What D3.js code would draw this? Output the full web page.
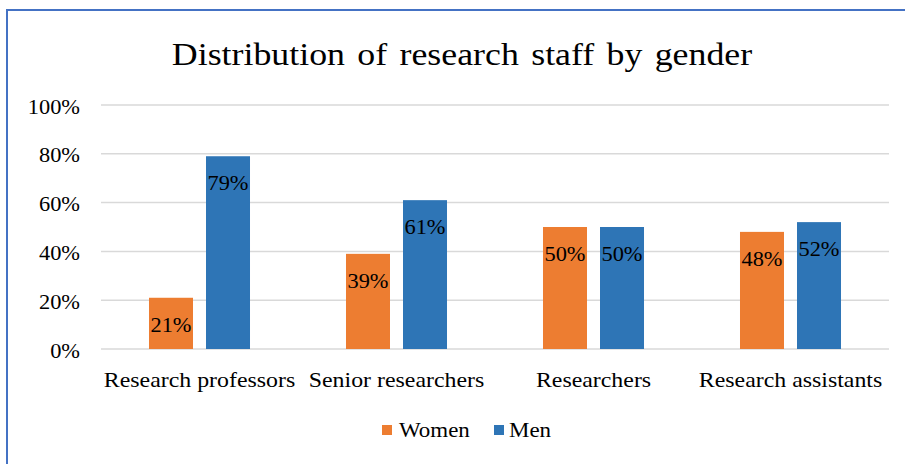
<!DOCTYPE html>
<html>
<head>
<meta charset="utf-8">
<script src="https://cdn.jsdelivr.net/npm/d3@7"></script>
<style>
  body { margin: 0; background: #fff; }
  text { font-family: "Liberation Serif", "Times New Roman", serif; fill: #000; }
</style>
</head>
<body>
<div id="chart"></div>
<script>
// 数据
var categories = ["Research professors", "Senior researchers", "Researchers", "Research assistants"];
var seriesNames = ["Women", "Men"];
var women = [21, 39, 50, 48];
var men = [79, 61, 50, 52];
var yTicks = [0, 20, 40, 60, 80, 100];
var colors = { Women: "#ed7d31", Men: "#2e75b6" };

var W = 905, H = 464;
var plot = { left: 101, right: 889, top: 105, bottom: 349 };
var sx = 1.12; // 原图文字横向偏宽
var serif = '"Liberation Serif", "Times New Roman", serif';

var svg = d3.select("#chart").append("svg")
    .attr("width", W)
    .attr("height", H);

svg.append("rect").attr("width", W).attr("height", H).attr("fill", "#fff");

// 蓝色边框（上、左）
svg.append("line").attr("x1", 6).attr("x2", W).attr("y1", 10).attr("y2", 10)
    .attr("stroke", "#4472c4").attr("stroke-width", 2);
svg.append("line").attr("x1", 7).attr("x2", 7).attr("y1", 9).attr("y2", H)
    .attr("stroke", "#4472c4").attr("stroke-width", 2);

// 文字辅助
function addText(g, x, y, str, size, anchor) {
    return g.append("text")
        .attr("transform", "translate(" + x + "," + y + ") scale(" + sx + ",1)")
        .attr("text-anchor", anchor || "middle")
        .style("font-family", serif)
        .style("font-size", size + "px")
        .text(str);
}

// 标题
addText(svg, 462, 65, "Distribution of research staff by gender", 32)
    .style("word-spacing", "3px");

var x0 = d3.scaleBand().domain(categories).range([plot.left, plot.right]).padding(0);
var x1 = d3.scaleBand().domain(seriesNames).range([0, x0.bandwidth()])
    .paddingInner(0.228).paddingOuter(0.842);
var y = d3.scaleLinear().domain([0, 100]).range([plot.bottom, plot.top]);

// 网格线
svg.append("g").selectAll("line").data(yTicks).enter().append("line")
    .attr("x1", plot.left).attr("x2", plot.right)
    .attr("y1", function (d) { return y(d); })
    .attr("y2", function (d) { return y(d); })
    .attr("stroke", "#d9d9d9").attr("stroke-width", 1.5);

// y轴
var yAxis = svg.append("g").attr("transform", "translate(" + plot.left + ",0)")
    .call(d3.axisLeft(y).tickValues(yTicks).tickSize(0).tickFormat(function (d) { return d + "%"; }));
yAxis.attr("font-family", null).attr("font-size", null);
yAxis.select(".domain").remove();
yAxis.selectAll("text")
    .attr("x", null).attr("dy", null).attr("y", 8)
    .attr("transform", "translate(-21,0) scale(" + sx + ",1)")
    .attr("text-anchor", "end")
    .style("font-family", serif)
    .style("font-size", "20px")
    .attr("fill", "#000");

// 柱子
var rows = categories.map(function (c, i) {
    return { cat: c, vals: [{ s: "Women", v: women[i] }, { s: "Men", v: men[i] }] };
});

var groups = svg.append("g").selectAll("g").data(rows).enter().append("g")
    .attr("transform", function (d) { return "translate(" + x0(d.cat) + ",0)"; });

groups.selectAll("rect").data(function (d) { return d.vals; }).enter().append("rect")
    .attr("x", function (d) { return x1(d.s); })
    .attr("y", function (d) { return y(d.v); })
    .attr("width", x1.bandwidth())
    .attr("height", function (d) { return y(0) - y(d.v); })
    .attr("fill", function (d) { return colors[d.s]; });

// 数据标签
groups.each(function (d) {
    var g = d3.select(this);
    d.vals.forEach(function (v) {
        addText(g, x1(v.s) + x1.bandwidth() / 2, y(v.v) + 34, v.v + "%", 20);
    });
});

// x轴标签
categories.forEach(function (c) {
    addText(svg, x0(c) + x0.bandwidth() / 2, 387, c, 21.3);
});

// 图例
var legend = [{ s: "Women", mx: 382, tx: 399 }, { s: "Men", mx: 494, tx: 509 }];
legend.forEach(function (l) {
    svg.append("rect").attr("x", l.mx).attr("y", 425).attr("width", 10).attr("height", 10)
        .attr("fill", colors[l.s]);
    addText(svg, l.tx, 437, l.s, 20.5, "start");
});
</script>
</body>
</html>
